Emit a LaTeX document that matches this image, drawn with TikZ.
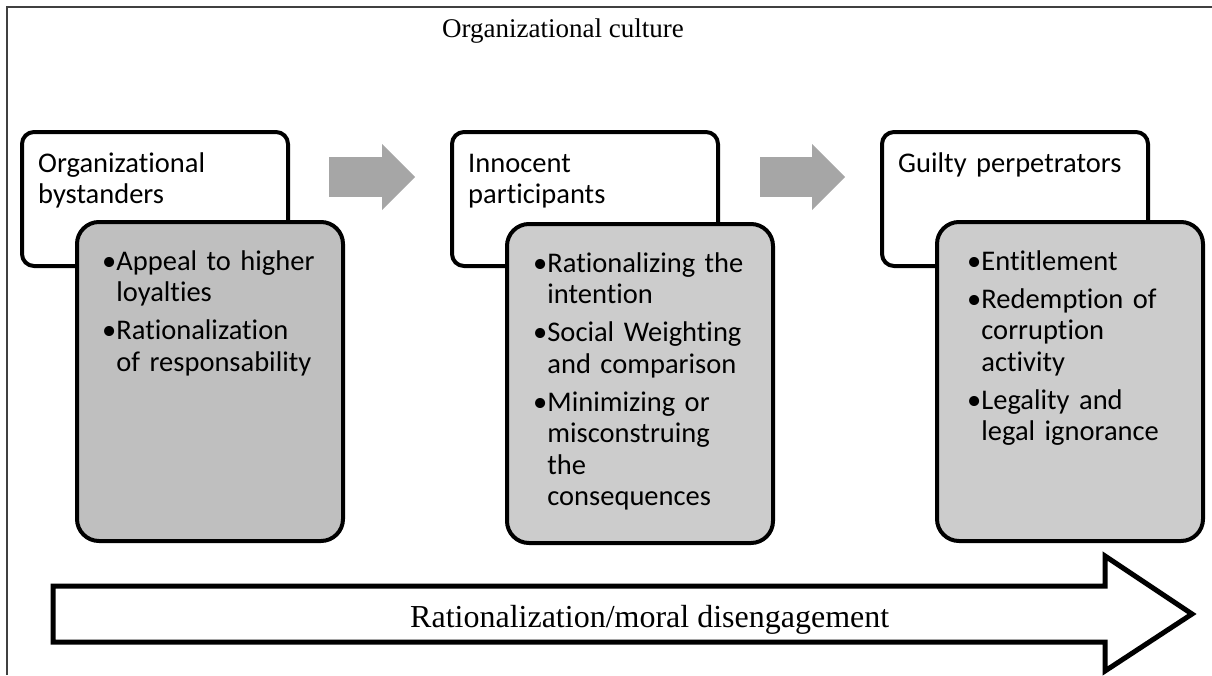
\documentclass[tikz,border=0pt]{standalone}
\usepackage{fontspec}
\setmainfont{Liberation Serif}
\setsansfont{Carlito}[Ligatures=NoCommon]
\usetikzlibrary{positioning, arrows.meta}

% one bullet point, later lines hang under the text
\newlength{\bulw}
\newcommand{\bul}[1]{\setlength{\parskip}{6.5pt}\settowidth{\bulw}{\textbullet}\noindent\hangindent=\bulw\hangafter=1\textbullet#1\par}

\begin{document}
\begin{tikzpicture}[
        x=1pt, y=-1pt,
        stage/.style={draw=black, line width=4pt, fill=white, rounded corners=12pt, minimum width=266pt, minimum height=134pt, anchor=north west},
        traits/.style={draw=black, line width=4pt, rounded corners=22pt, minimum width=266pt, minimum height=319pt, anchor=north west},
        stagetext/.style={font=\sffamily\fontsize{28.5}{31.5}\selectfont, align=left, text width=245pt, inner sep=0pt, anchor=base west},
        flow/.style={draw=black!35, line width=40pt, -{Triangle[length=33pt, width=66pt, line width=0pt]}},
        frame/.style={draw=black!75, line width=1.2pt}
    ]
    \useasboundingbox (0,0) rectangle (1212,675);

    % Frame and heading
    \draw[frame] (7,675) -- (7,7) -- (1212,7);
    \node[font=\fontsize{27}{32}\selectfont, anchor=base west, inner sep=0pt] (culture) at (442,37) {Organizational culture};

    % ================= Stages =================
    \node[stage] (ob) at (20,130) {};
    \node[stage] (ip) at (450,130) {};
    \node[stage] (gp) at (880,130) {};

    \node[traits, fill=black!25] (obt) at (75,220) {};
    \node[traits, fill=black!20] (ipt) at (505,222) {};
    \node[traits, fill=black!20] (gpt) at (935,220) {};

    % Stage names
    \node[stagetext] (obl) at ([xshift=18pt, yshift=-42pt]ob.north west) {Organizational\\bystanders};
    \node[stagetext] (ipl) at ([xshift=18pt, yshift=-42pt]ip.north west) {Innocent\\participants};
    \node[stagetext] (gpl) at ([xshift=18pt, yshift=-42pt]gp.north west) {Guilty perpetrators};

    % Rationalizations
    \node[stagetext] (obr) at ([xshift=27pt, yshift=-50pt]obt.north west) {%
        \bul{Appeal to higher\newline loyalties}%
        \bul{Rationalization\newline of responsability}};
    \node[stagetext] (ipr) at ([xshift=28pt, yshift=-50pt]ipt.north west) {%
        \bul{Rationalizing the\newline intention}%
        \bul{Social Weighting\newline and comparison}%
        \bul{Minimizing or\newline misconstruing\newline the\newline consequences}};
    \node[stagetext] (gpr) at ([xshift=32pt, yshift=-50pt]gpt.north west) {%
        \bul{Entitlement}%
        \bul{Redemption of\newline corruption\newline activity}%
        \bul{Legality and\newline legal ignorance}};

    % Steps between stages
    \draw[flow] ([xshift=39pt, yshift=22pt]ob.east) -- ([xshift=-35pt, yshift=22pt]ip.west);
    \draw[flow] ([xshift=40pt, yshift=22pt]ip.east) -- ([xshift=-35pt, yshift=22pt]gp.west);

    % ================= Disengagement arrow =================
    \draw[line width=5pt, fill=white, line join=miter] (53,586) -- (1105,586) -- (1105,556) -- (1192,614) -- (1105,671) -- (1105,642) -- (53,642) -- cycle;
    \node[font=\fontsize{32}{40}\selectfont, anchor=base west, inner sep=0pt] (rd) at (410,627) {Rationalization/moral disengagement};

\end{tikzpicture}
\end{document}
